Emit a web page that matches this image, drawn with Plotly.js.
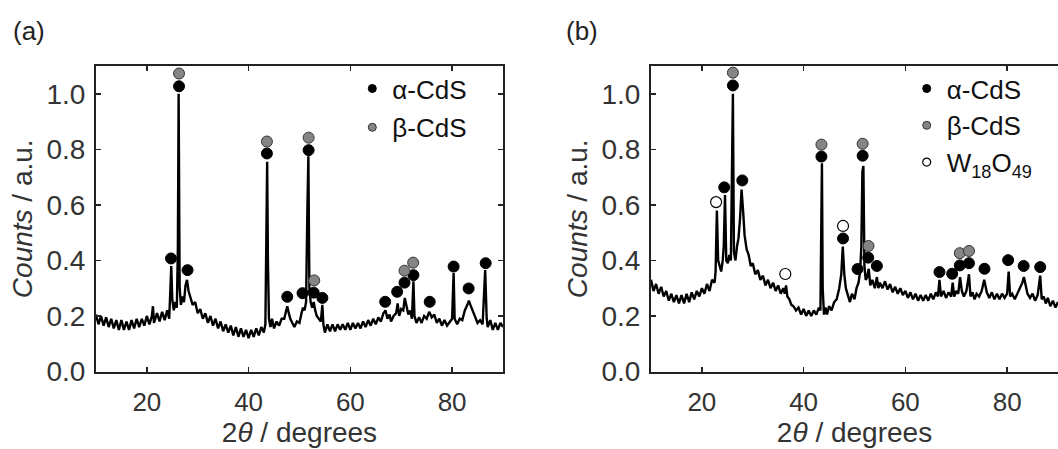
<!DOCTYPE html>
<html>
<head>
<meta charset="utf-8">
<script src="https://cdn.plot.ly/plotly-3.0.1.min.js"></script>
<style>html,body{margin:0;padding:0;background:#fff;}#chart{width:1058px;height:449px;}</style>
</head>
<body>
<div id="chart"></div>
<script>
// ---------- Panel (a) spectrum ----------
const twoTheta_a = [10,10.5,11,11.5,12,12.5,13,13.5,14,14.5,15,15.5,16,16.5,17,17.5,18,18.5,19,19.5,20,20.5,21,21.2,21.4,21.5,22,22.5,23,23.5,24,24.4,24.6,24.8,25.0,25.3,25.6,25.9,26.1,26.25,26.45,26.7,27.0,27.3,27.6,27.9,28.2,28.5,29,29.5,30,30.5,31,31.5,32,32.5,33,33.5,34,34.5,35,35.5,36,36.5,37,37.5,38,38.5,39,39.5,40,40.5,41,41.5,42,42.5,43,43.3,43.5,43.65,43.8,44.0,44.3,44.6,45,45.5,46,46.5,47,47.3,47.6,47.9,48.2,48.6,49,49.5,50,50.4,50.7,51,51.3,51.55,51.75,51.95,52.2,52.5,52.8,53.1,53.4,53.8,54.2,54.5,54.7,55,55.5,56,56.5,57,57.5,58,58.5,59,59.5,60,60.5,61,61.5,62,62.5,63,63.5,64,64.5,65,65.5,66,66.5,66.9,67.3,67.7,68,68.5,69,69.3,69.6,70,70.4,70.7,71.0,71.4,71.8,72.1,72.4,72.6,73,73.5,74,74.5,75,75.5,76,76.5,77,77.5,78,78.5,79,79.5,80,80.3,80.5,81,81.5,82,82.5,83,83.3,83.6,84,84.5,85,85.5,86,86.5,86.8,87,87.5,88,88.5,89,89.5,90];
const counts_a = [0.205,0.17,0.20,0.165,0.195,0.16,0.19,0.155,0.185,0.15,0.185,0.15,0.18,0.15,0.185,0.155,0.19,0.16,0.19,0.165,0.20,0.17,0.20,0.235,0.175,0.18,0.21,0.18,0.215,0.185,0.22,0.19,0.30,0.38,0.26,0.22,0.25,0.23,0.45,1.00,0.30,0.24,0.27,0.25,0.31,0.33,0.29,0.27,0.24,0.25,0.21,0.225,0.19,0.21,0.175,0.20,0.165,0.19,0.155,0.18,0.145,0.17,0.14,0.165,0.13,0.16,0.125,0.155,0.125,0.15,0.12,0.15,0.125,0.155,0.13,0.16,0.14,0.17,0.45,0.755,0.40,0.19,0.16,0.19,0.155,0.18,0.165,0.19,0.19,0.215,0.235,0.21,0.19,0.175,0.16,0.18,0.175,0.21,0.23,0.22,0.25,0.58,0.775,0.30,0.25,0.23,0.25,0.22,0.20,0.19,0.18,0.24,0.17,0.14,0.17,0.145,0.17,0.145,0.17,0.15,0.17,0.15,0.175,0.15,0.175,0.155,0.175,0.155,0.18,0.16,0.185,0.165,0.19,0.17,0.195,0.18,0.21,0.22,0.19,0.205,0.18,0.20,0.21,0.245,0.20,0.225,0.22,0.265,0.24,0.205,0.22,0.19,0.325,0.20,0.175,0.195,0.175,0.20,0.19,0.215,0.195,0.205,0.175,0.19,0.165,0.185,0.165,0.18,0.19,0.355,0.19,0.17,0.19,0.185,0.22,0.24,0.255,0.24,0.22,0.20,0.175,0.185,0.17,0.365,0.19,0.16,0.185,0.15,0.175,0.15,0.175,0.16];

// ---------- Panel (b) spectrum ----------
const twoTheta_b = [10,10.5,11,11.5,12,12.5,13,13.5,14,14.5,15,15.5,16,16.5,17,17.5,18,18.5,19,19.5,20,20.5,21,21.5,22,22.5,22.7,22.95,23.2,23.5,23.8,24.1,24.3,24.55,24.8,25.1,25.4,25.7,25.95,26.1,26.3,26.6,26.9,27.2,27.5,27.8,28.1,28.4,28.8,29.2,29.6,30,30.5,31,31.5,32,32.5,33,33.5,34,34.5,35,35.5,36,36.3,36.55,36.8,37.2,37.6,38,38.5,39,39.5,40,40.5,41,41.5,42,42.5,43,43.3,43.45,43.6,43.75,44.0,44.3,44.6,45,45.5,46,46.5,47,47.4,47.7,48.0,48.3,48.7,49.1,49.5,50,50.4,50.8,51.1,51.35,51.55,51.75,51.95,52.2,52.5,52.8,53.1,53.5,54,54.4,54.7,55,55.5,56,56.5,57,57.5,58,58.5,59,59.5,60,60.5,61,61.5,62,62.5,63,63.5,64,64.5,65,65.5,66,66.4,66.7,67,67.5,68,68.5,69,69.3,69.6,70,70.4,70.75,71.1,71.5,72,72.5,72.8,73.2,73.6,74,74.5,75,75.5,76,76.5,77,77.5,78,78.5,79,79.5,80,80.3,80.6,81,81.5,82,82.5,83,83.3,83.6,84,84.5,85,85.5,86,86.5,86.8,87.2,87.6,88,88.5,89,89.5,90];
const counts_b = [0.33,0.29,0.315,0.28,0.305,0.27,0.29,0.255,0.28,0.25,0.275,0.245,0.275,0.245,0.28,0.25,0.285,0.26,0.29,0.27,0.30,0.28,0.315,0.29,0.33,0.32,0.36,0.58,0.40,0.38,0.36,0.40,0.45,0.635,0.40,0.39,0.42,0.40,0.77,1.00,0.43,0.40,0.45,0.48,0.55,0.655,0.58,0.49,0.44,0.42,0.38,0.39,0.35,0.365,0.33,0.345,0.31,0.33,0.30,0.32,0.29,0.31,0.28,0.30,0.28,0.31,0.27,0.26,0.24,0.235,0.22,0.23,0.205,0.225,0.20,0.22,0.20,0.22,0.205,0.23,0.22,0.57,0.75,0.30,0.205,0.23,0.205,0.235,0.22,0.25,0.26,0.30,0.35,0.45,0.35,0.30,0.27,0.25,0.28,0.26,0.30,0.32,0.36,0.45,0.72,0.74,0.38,0.33,0.34,0.37,0.31,0.33,0.30,0.34,0.30,0.32,0.30,0.325,0.295,0.315,0.285,0.305,0.28,0.30,0.275,0.29,0.265,0.285,0.26,0.28,0.255,0.275,0.255,0.275,0.255,0.28,0.26,0.285,0.27,0.33,0.27,0.29,0.265,0.285,0.27,0.32,0.27,0.29,0.28,0.34,0.29,0.27,0.29,0.35,0.27,0.285,0.26,0.28,0.27,0.29,0.33,0.285,0.265,0.285,0.26,0.28,0.26,0.28,0.265,0.28,0.36,0.27,0.28,0.26,0.28,0.30,0.32,0.34,0.31,0.28,0.265,0.28,0.255,0.275,0.345,0.26,0.27,0.245,0.265,0.235,0.255,0.23,0.25];

// ---------- Peak markers ----------
const alpha_a_x = [24.75,26.33,28.0,43.6,47.6,50.6,51.8,52.8,54.5,66.85,69.2,70.65,72.4,75.6,80.3,83.25,86.6];
const alpha_a_y = [0.407,1.027,0.365,0.785,0.269,0.282,0.797,0.284,0.265,0.251,0.287,0.32,0.347,0.251,0.378,0.299,0.39];
const beta_a_x = [26.33,43.6,51.8,52.9,70.65,72.35];
const beta_a_y = [1.073,0.828,0.842,0.328,0.363,0.392];

const alpha_b_x = [24.4,26.1,27.95,43.5,47.75,50.6,51.6,52.7,54.4,66.7,69.2,70.7,72.5,75.55,80.2,83.25,86.5];
const alpha_b_y = [0.663,1.03,0.688,0.774,0.479,0.369,0.777,0.41,0.38,0.358,0.352,0.382,0.39,0.37,0.401,0.38,0.376];
const beta_b_x = [26.1,43.5,51.6,52.75,70.7,72.5];
const beta_b_y = [1.076,0.817,0.82,0.452,0.426,0.434];
const w_b_x = [22.8,36.4,47.75];
const w_b_y = [0.61,0.351,0.524];

const xTicks = [20,40,60,80];
const yTicks = [0,0.2,0.4,0.6,0.8,1.0];
const legendNames = ['α-CdS','β-CdS','W<sub>18</sub>O<sub>49</sub>'];
const panelLabels = ['(a)','(b)'];

const BLACK = '#000', GRAY = '#858585', EDGE = '#333';
const mAlpha = {size:11, color:BLACK, line:{color:BLACK,width:1}};
const mBeta = {size:11, color:GRAY, line:{color:EDGE,width:1}};
const mW = {size:11, color:'#fff', line:{color:BLACK,width:1.2}};

function spec(x,y,xa,ya){return {x:x,y:y,xaxis:xa,yaxis:ya,type:'scatter',mode:'lines',line:{color:'#000',width:2.4},showlegend:false,hoverinfo:'skip'};}
function pts(x,y,xa,ya,m){return {x:x,y:y,xaxis:xa,yaxis:ya,type:'scatter',mode:'markers',marker:m,showlegend:false};}
function leg(name,m,xa,ya,lg,grp){return {x:[null],y:[null],xaxis:xa,yaxis:ya,type:'scatter',mode:'markers',name:name,legend:lg,legendgroup:grp,marker:Object.assign({},m,{size:8}),showlegend:true};}

const data = [
  spec(twoTheta_a,counts_a,'x','y'),
  pts(alpha_a_x,alpha_a_y,'x','y',mAlpha),
  pts(beta_a_x,beta_a_y,'x','y',mBeta),
  spec(twoTheta_b,counts_b,'x2','y2'),
  pts(alpha_b_x,alpha_b_y,'x2','y2',mAlpha),
  pts(beta_b_x,beta_b_y,'x2','y2',mBeta),
  pts(w_b_x,w_b_y,'x2','y2',mW),
  leg(legendNames[0],mAlpha,'x','y','legend','a1'),
  leg(legendNames[1],mBeta,'x','y','legend','a2'),
  leg(legendNames[0],mAlpha,'x2','y2','legend2','b1'),
  leg(legendNames[1],mBeta,'x2','y2','legend2','b2'),
  leg(legendNames[2],mW,'x2','y2','legend2','b3')
];

const FONT = 'Liberation Sans, Arial, Helvetica, sans-serif';
const xTickFont = {family:FONT,size:26,color:'#333'};
const yTickFont = {family:FONT,size:28,color:'#333'};
const xTitleFont = {family:FONT,size:28,color:'#333'};
const yTitleFont = {family:FONT,size:28,color:'#333'};

function xax(domain,anchor){return {domain:domain,anchor:anchor,range:[10,90],tickvals:xTicks,ticks:'inside',ticklen:5,tickwidth:1.5,tickcolor:'#222',showline:true,linecolor:'#222',linewidth:2,mirror:'ticks',showgrid:false,zeroline:false,tickfont:xTickFont,ticklabelstandoff:6,title:{text:'2<i>θ</i> / degrees',font:xTitleFont,standoff:2}};}
function yax(anchor,mirror){return {domain:[0.1726,0.853],anchor:anchor,range:[0,1.1],tickvals:yTicks,tickformat:'.1f',ticks:'inside',ticklen:5,tickwidth:1.5,tickcolor:'#222',showline:true,linecolor:'#222',linewidth:2,mirror:mirror,showgrid:false,zeroline:false,tickfont:yTickFont,ticklabelstandoff:3,title:{text:'<i>Counts</i> / a.u.',font:yTitleFont,standoff:6}};}

const legFont = {family:FONT,size:26,color:'#111'};
const layout = {
  width:1058,height:449,
  margin:{l:0,r:0,t:0,b:0},
  paper_bgcolor:'#fff',plot_bgcolor:'#fff',
  xaxis:xax([0.0907,0.4754],'y'),
  yaxis:yax('x','ticks'),
  xaxis2:xax([0.6153,1],'y2'),
  yaxis2:yax('x2',false),
  legend:{x:0.333,y:0.855,xanchor:'left',yanchor:'top',bgcolor:'rgba(0,0,0,0)',borderwidth:0,font:legFont,tracegroupgap:2,traceorder:'grouped',itemsizing:'trace'},
  legend2:{x:0.857,y:0.855,xanchor:'left',yanchor:'top',bgcolor:'rgba(0,0,0,0)',borderwidth:0,font:legFont,tracegroupgap:0,traceorder:'grouped',itemsizing:'trace'},
  annotations:[
    {text:panelLabels[0],xref:'paper',yref:'paper',x:11/1058,y:1-31/449,xanchor:'left',yanchor:'middle',showarrow:false,font:{family:FONT,size:26,color:'#222'}},
    {text:panelLabels[1],xref:'paper',yref:'paper',x:564/1058,y:1-31/449,xanchor:'left',yanchor:'middle',showarrow:false,font:{family:FONT,size:26,color:'#222'}}
  ],
  showlegend:true
};

Plotly.newPlot('chart',data,layout,{staticPlot:true,displayModeBar:false});
</script>
</body>
</html>
